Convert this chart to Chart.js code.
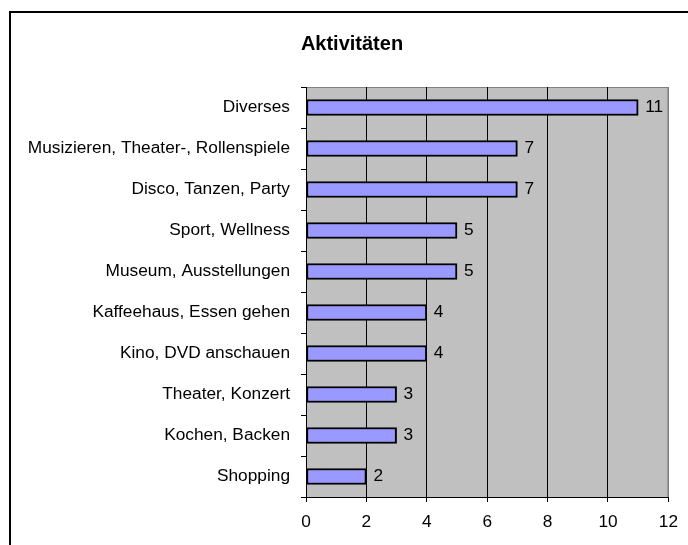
<!DOCTYPE html>
<html>
<head>
<meta charset="utf-8">
<script src="https://cdn.jsdelivr.net/npm/chart.js@4"></script>
<style>
  body { margin: 0; background: #fff; }
  #wrap { position: relative; width: 688px; height: 545px; }
  #frame { position: absolute; left: 9px; top: 11px; width: 700px; height: 560px;
           border-left: 2px solid #000; border-top: 2px solid #000; }
  #myChart { position: absolute; left: 0; top: 0; }
</style>
</head>
<body>
<div id="wrap">
  <div id="frame"></div>
  <canvas id="myChart" width="688" height="545"></canvas>
</div>
<script>
const chartTitle = 'Aktivitäten'
const categories = [
  'Diverses',
  'Musizieren, Theater-, Rollenspiele',
  'Disco, Tanzen, Party',
  'Sport, Wellness',
  'Museum, Ausstellungen',
  'Kaffeehaus, Essen gehen',
  'Kino, DVD anschauen',
  'Theater, Konzert',
  'Kochen, Backen',
  'Shopping'
]
const counts = [11, 7, 7, 5, 5, 4, 4, 3, 3, 2]
const xTicks = [0, 2, 4, 6, 8, 10, 12]

const font = 'Liberation Sans, Arial, sans-serif'
const labelSize = 17.3

// grey plot area like the old spreadsheet charts
const plotBg = {
  id: 'plotBg',
  beforeDraw: chart => {
    const { ctx, chartArea: a } = chart
    ctx.save()
    ctx.fillStyle = '#c0c0c0'
    ctx.fillRect(a.left, a.top, a.right - a.left, a.bottom - a.top)
    ctx.strokeStyle = '#808080'
    ctx.lineWidth = 1
    ctx.strokeRect(a.left + 0.5, a.top + 0.5, a.right - a.left - 1, a.bottom - a.top)
    ctx.restore()
  }
}

// title sits a bit right of the canvas centre, so draw it by hand
const titlePlugin = {
  id: 'titleText',
  afterDraw: chart => {
    const { ctx } = chart
    ctx.save()
    ctx.font = 'bold 20px ' + font
    ctx.fillStyle = '#000'
    ctx.textAlign = 'center'
    ctx.textBaseline = 'alphabetic'
    ctx.fillText(chartTitle, 352, 50)
    ctx.restore()
  }
}

// numbers at the end of each bar
const valueLabels = {
  id: 'valueLabels',
  afterDatasetsDraw: chart => {
    const { ctx } = chart
    const meta = chart.getDatasetMeta(0)
    ctx.save()
    ctx.font = labelSize + 'px ' + font
    ctx.fillStyle = '#000'
    ctx.textBaseline = 'middle'
    ctx.textAlign = 'left'
    meta.data.forEach((bar, i) => {
      ctx.fillText(String(counts[i]), bar.x + 7, bar.y)
    })
    ctx.restore()
  }
}

const newChart = () => {
  const ctx = document.getElementById('myChart')
  return new Chart(ctx, {
    type: 'bar',
    data: {
      labels: categories,
      datasets: [{
        data: counts,
        backgroundColor: '#9999ff',
        borderColor: '#000',
        borderWidth: 2,
        borderSkipped: false,
        barThickness: 16
      }]
    },
    options: {
      indexAxis: 'y',
      responsive: false,
      animation: false,
      layout: { padding: { left: 10, right: 19, top: 87, bottom: 0 } },
      plugins: {
        legend: { display: false },
        tooltip: { enabled: false },
        title: { display: false }
      },
      scales: {
        x: {
          min: 0,
          max: 12,
          afterBuildTicks: scale => { scale.ticks = xTicks.map(v => ({ value: v })) },
          afterFit: scale => { scale.height = 48 },
          border: { color: '#000', width: 1 },
          grid: {
            color: c => c.tick && c.tick.value === 12 ? '#808080' : '#000',
            tickColor: '#000',
            tickLength: 5
          },
          ticks: {
            color: '#000',
            padding: 10,
            font: { family: font, size: labelSize }
          }
        },
        y: {
          afterFit: scale => { scale.width = 296 },
          border: { color: '#000', width: 1 },
          grid: {
            drawOnChartArea: false,
            tickColor: '#000',
            tickLength: 5
          },
          ticks: {
            color: '#000',
            padding: 11,
            font: { family: font, size: labelSize }
          }
        }
      }
    },
    plugins: [plotBg, valueLabels, titlePlugin]
  })
}

const chart = newChart()
</script>
</body>
</html>
